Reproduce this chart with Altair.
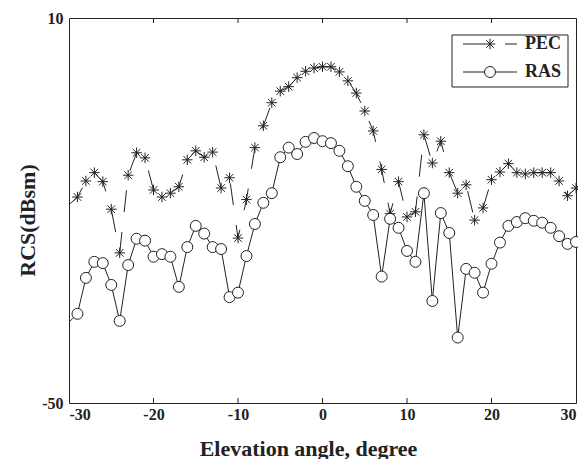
import altair as alt
import pandas as pd

# ---- data ----
angles = list(range(-30, 31))
pec = [-19.1, -17.9, -15.4, -14.1, -15.5, -19.8, -26.6, -14.5, -11.0, -11.8,
       -16.8, -17.9, -17.3, -16.3, -12.1, -10.7, -11.7, -10.9, -16.5, -14.9,
       -24.3, -18.3, -10.2, -6.8, -3.2, -1.4, -0.7, 0.7, 1.7, 2.2,
       2.4, 2.4, 1.6, 0.2, -1.7, -4.5, -7.6, -13.6, -20.5, -15.5,
       -21.0, -20.2, -8.2, -12.6, -9.2, -14.1, -17.3, -16.0, -21.5, -19.6,
       -15.2, -14.0, -12.7, -14.1, -14.3, -14.1, -14.1, -14.1, -15.4, -17.7,
       -16.5]
ras = [-37.4, -36.1, -30.5, -28.0, -28.2, -31.6, -37.2, -28.5, -24.4, -24.7,
       -27.2, -26.8, -27.2, -31.9, -25.7, -22.4, -23.6, -25.7, -26.0, -33.5,
       -32.8, -27.1, -22.1, -18.8, -17.3, -11.7, -10.2, -11.2, -9.3, -8.7,
       -9.2, -9.5, -10.7, -13.1, -16.3, -18.5, -20.7, -30.3, -21.3, -22.7,
       -26.3, -28.0, -17.3, -34.1, -20.4, -23.5, -39.8, -29.1, -29.7, -32.8,
       -28.3, -25.0, -22.4, -21.8, -21.2, -21.6, -21.9, -22.7, -24.0, -25.2,
       -24.9]
x_ticks = [-30, -20, -10, 0, 10, 20, 30]
y_ticks = [-50, 10]
series_names = ["PEC", "RAS"]
x_title = "Elevation angle, degree"
y_title = "RCS(dBsm)"

df = pd.DataFrame({"angle": angles, "PEC": pec, "RAS": ras})
ticks_df = pd.DataFrame({"angle": x_ticks[1:-1]})
one = pd.DataFrame({"k": [0]})

W, H = 507, 385
FONT = "Liberation Serif"
INK = "#222222"
STAR = "M-1,0L1,0M0,-1L0,1M-0.72,-0.72L0.72,0.72M-0.72,0.72L0.72,-0.72"
DASH = [22, 20]

xs = alt.Scale(domain=[-30, 30], nice=False, zero=False)
ys = alt.Scale(domain=[-50, 10], nice=False, zero=False)

x_axis = alt.Axis(values=x_ticks, title=x_title, ticks=False, domain=False, grid=False,
                  labelExpr="datum.value", labelFontSize=16, labelPadding=3,
                  titleFontSize=22, titleBaseline="alphabetic", titleX=239, titleY=52)
y_axis = alt.Axis(values=y_ticks, title=y_title, ticks=False, domain=False, grid=False,
                  labelExpr="datum.value", labelFontSize=16, labelPadding=6,
                  titleFontSize=22, titleAngle=-90, titleBaseline="middle",
                  titleX=-42, titleY=202)


def X():
    return alt.X("angle:Q", scale=xs, axis=x_axis, title=x_title)


def Y(field):
    return alt.Y(f"{field}:Q", scale=ys, axis=y_axis, title=y_title)


pec_line = alt.Chart(df).mark_line(color=INK, strokeWidth=1, strokeDash=DASH).encode(
    x=X(), y=Y("PEC"))
pec_pts = alt.Chart(df).transform_filter("datum.angle > -30").mark_point(
    shape=STAR, size=110, filled=False, color=INK, strokeWidth=1, opacity=1
).encode(x=X(), y=Y("PEC"))
ras_line = alt.Chart(df).mark_line(color=INK, strokeWidth=1).encode(
    x=X(), y=Y("RAS"))
ras_pts = alt.Chart(df).transform_filter("datum.angle > -30").mark_point(
    shape="circle", size=120, filled=True, fill="white", stroke=INK, strokeWidth=1, opacity=1
).encode(x=X(), y=Y("RAS"))

tick_bottom = alt.Chart(ticks_df).mark_rule(color=INK, strokeWidth=1).encode(
    x=X(), y=alt.value(H), y2=alt.value(H - 5))
tick_top = alt.Chart(ticks_df).mark_rule(color=INK, strokeWidth=1).encode(
    x=X(), y=alt.value(0), y2=alt.value(5))

# ---- legend ----
LX0, LX1, LY0, LY1 = 383, 499, 17, 69
ROW1, ROW2 = 26, 54
SX0, SX1, SXC, TX = 394, 448, 421, 456

leg_box = alt.Chart(one).mark_rect(fill="white", stroke=INK, strokeWidth=1).encode(
    x=alt.value(LX0), x2=alt.value(LX1), y=alt.value(LY0), y2=alt.value(LY1))
leg_l1 = alt.Chart(one).mark_rule(color=INK, strokeWidth=1, strokeDash=DASH).encode(
    x=alt.value(SX0), x2=alt.value(SX1), y=alt.value(ROW1))
leg_p1 = alt.Chart(one).mark_point(shape=STAR, size=110, filled=False, color=INK,
                                   strokeWidth=1, opacity=1).encode(
    x=alt.value(SXC), y=alt.value(ROW1))
leg_l2 = alt.Chart(one).mark_rule(color=INK, strokeWidth=1).encode(
    x=alt.value(SX0), x2=alt.value(SX1), y=alt.value(ROW2))
leg_p2 = alt.Chart(one).mark_point(shape="circle", size=120, filled=True, fill="white",
                                   stroke=INK, strokeWidth=1, opacity=1).encode(
    x=alt.value(SXC), y=alt.value(ROW2))
leg_t1 = alt.Chart(one).mark_text(text=series_names[0], font=FONT, fontWeight="bold",
                                  fontSize=18, align="left", baseline="middle", color=INK).encode(
    x=alt.value(TX), y=alt.value(ROW1))
leg_t2 = alt.Chart(one).mark_text(text=series_names[1], font=FONT, fontWeight="bold",
                                  fontSize=18, align="left", baseline="middle", color=INK).encode(
    x=alt.value(TX), y=alt.value(ROW2))

chart = alt.layer(
    pec_line, ras_line, pec_pts, ras_pts, tick_bottom, tick_top,
    leg_box, leg_l1, leg_p1, leg_l2, leg_p2, leg_t1, leg_t2,
).properties(
    width=W, height=H,
    autosize=alt.AutoSizeParams(type="none"),
    padding={"left": 61, "top": 10, "right": 2, "bottom": 56},
    background="white",
).configure_view(
    stroke=INK, strokeWidth=1
).configure_axis(
    labelFont=FONT, labelFontWeight="bold", labelColor=INK,
    titleFont=FONT, titleFontWeight="bold", titleColor=INK,
)

chart.save("out.html", embed_options={"renderer": "svg", "actions": False})
